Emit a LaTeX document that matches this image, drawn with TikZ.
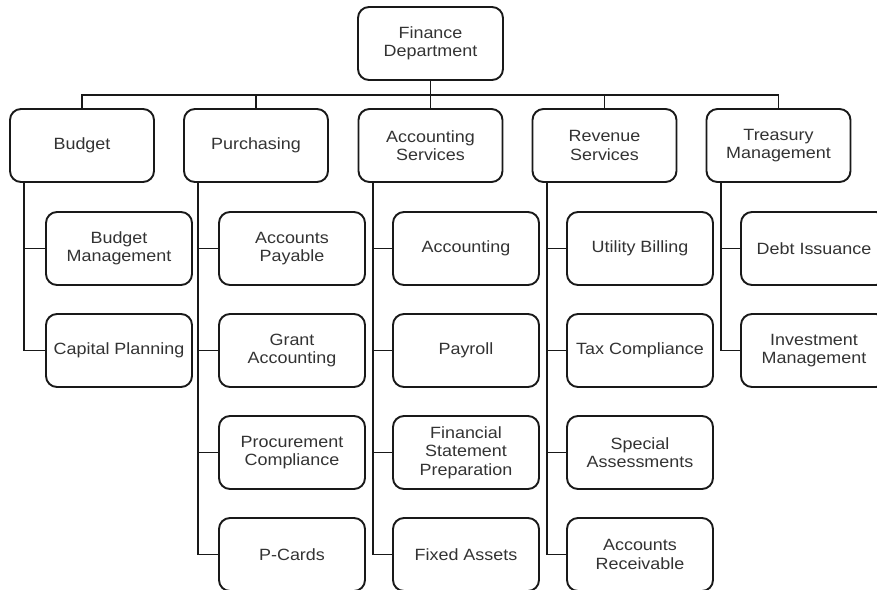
\documentclass[tikz,border=0pt]{standalone}
\usepackage{fontspec}
\setmainfont[FakeStretch=1.1]{Liberation Sans}
\begin{document}
\begin{tikzpicture}[x=1pt,y=-1pt,
  box/.style={draw=black!90, line width=1.9pt, rounded corners=11pt, align=center,
    minimum height=73pt, inner sep=0pt, text=black!80,
    font=\fontsize{16.3}{18.4}\selectfont},
  topbox/.style={box, minimum width=144pt},
  kid/.style={box, minimum width=146pt},
  link/.style={draw=black!90, line width=1.9pt}]
\useasboundingbox (0,0) rectangle (877,589);
\clip (0,0) rectangle (877,589);
\fill[white] (0,0) rectangle (877,589);
% top
\node[box, minimum width=145pt] (fin) at (430.5,43.5) {Finance\\Department};
% second row
\node[topbox] (bud) at (82,145.5) {Budget};
\node[topbox] (pur) at (256,145.5) {Purchasing};
\node[topbox] (acc) at (430.5,145.5) {Accounting\\Services};
\node[topbox] (rev) at (604.5,145.5) {Revenue\\Services};
\node[topbox] (tre) at (778.5,145.5) {Treasury\\Management};
% bus
\coordinate (bus) at (430.5,95);
\draw[link] (fin.south) -- (bus);
\draw[link] (bud.north) |- (bus) -| (tre.north);
\draw[link] (pur.north) -- (pur.north |- bus);
\draw[link] (acc.north) -- (acc.north |- bus);
\draw[link] (rev.north) -- (rev.north |- bus);
% children
\node[kid] (b1) at (119,248.5) {Budget\\Management};
\node[kid] (b2) at (119,350.5) {Capital Planning};
\node[kid] (p1) at (292,248.5) {Accounts\\Payable};
\node[kid] (p2) at (292,350.5) {Grant\\Accounting};
\node[kid] (p3) at (292,452.5) {Procurement\\Compliance};
\node[kid] (p4) at (292,554.5) {P-Cards};
\node[kid] (a1) at (466,248.5) {Accounting};
\node[kid] (a2) at (466,350.5) {Payroll};
\node[kid] (a3) at (466,452.5) {Financial\\Statement\\Preparation};
\node[kid] (a4) at (466,554.5) {Fixed Assets};
\node[kid] (r1) at (640,248.5) {Utility Billing};
\node[kid] (r2) at (640,350.5) {Tax Compliance};
\node[kid] (r3) at (640,452.5) {Special\\Assessments};
\node[kid] (r4) at (640,554.5) {Accounts\\Receivable};
\node[kid] (t1) at (814,248.5) {Debt Issuance};
\node[kid] (t2) at (814,350.5) {Investment\\Management};
% spines
\coordinate (bs) at ([xshift=15pt]bud.south west);
\coordinate (ps) at ([xshift=15pt]pur.south west);
\coordinate (as) at ([xshift=15pt]acc.south west);
\coordinate (rs) at ([xshift=15pt]rev.south west);
\coordinate (ts) at ([xshift=15pt]tre.south west);
\draw[link] (bs) |- (b2.west);
\draw[link] (bs |- b1.west) -- (b1.west);
\draw[link] (ps) |- (p4.west);
\foreach \n in {p1,p2,p3} \draw[link] (ps |- \n.west) -- (\n.west);
\draw[link] (as) |- (a4.west);
\foreach \n in {a1,a2,a3} \draw[link] (as |- \n.west) -- (\n.west);
\draw[link] (rs) |- (r4.west);
\foreach \n in {r1,r2,r3} \draw[link] (rs |- \n.west) -- (\n.west);
\draw[link] (ts) |- (t2.west);
\draw[link] (ts |- t1.west) -- (t1.west);
\end{tikzpicture}
\end{document}
